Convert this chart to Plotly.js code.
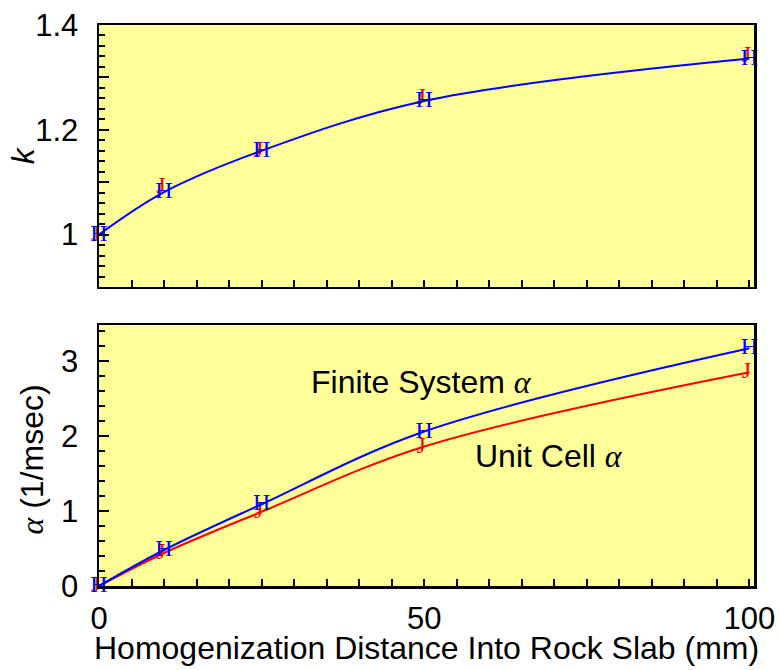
<!DOCTYPE html>
<html>
<head>
<meta charset="utf-8">
<script src="https://cdn.plot.ly/plotly-3.0.1.min.js"></script>
<style>html,body{margin:0;padding:0;background:#fff;}#chart{width:780px;height:670px;}</style>
</head>
<body>
<div id="chart"></div>
<script>
// Homogenization distance (mm)
const distance = [0, 10, 25, 50, 100];
// k (top panel)
const kFinite = [1.0, 1.081, 1.16, 1.255, 1.336];
const kUnit = [1.0, 1.09, 1.16, 1.26, 1.34];
// alpha (1/msec) (bottom panel)
const alphaFinite = [0, 0.48, 1.09, 2.06, 3.17];
const alphaUnit = [0, 0.44, 0.99, 1.86, 2.85];
// tick labels
const kTickVals = [0.9, 1.0, 1.1, 1.2, 1.3, 1.4];
const kTickText = ['', '1', '', '1.2', '', '1.4'];
const alphaTickVals = [0, 1, 2, 3];
const xTickVals = [0, 50, 100];

const BLUE = '#0000ff', RED = '#ff0000';
const FONT = 'Liberation Sans, Arial, sans-serif';
const SERIF = 'Liberation Serif, Times New Roman, serif';
const markFont = (c) => ({family: SERIF, size: 24, color: c});
const J = 'J\u00a0', H = 'H';

const traces = [
  {x: distance, y: kUnit, xaxis: 'x2', yaxis: 'y2', mode: 'text',
   text: distance.map(() => J), textposition: 'middle center', textfont: markFont(RED),
   cliponaxis: false, hoverinfo: 'skip'},
  {x: distance, y: kFinite, xaxis: 'x2', yaxis: 'y2', mode: 'lines+text',
   line: {color: BLUE, width: 2, shape: 'spline'},
   text: distance.map(() => H), textposition: 'middle center', textfont: markFont(BLUE),
   cliponaxis: false},
  {x: distance, y: alphaUnit, xaxis: 'x', yaxis: 'y', mode: 'lines+text',
   line: {color: RED, width: 2, shape: 'spline'},
   text: distance.map(() => J), textposition: 'middle center', textfont: markFont(RED),
   cliponaxis: false},
  {x: distance, y: alphaFinite, xaxis: 'x', yaxis: 'y', mode: 'lines+text',
   line: {color: BLUE, width: 2, shape: 'spline'},
   text: distance.map(() => H), textposition: 'middle center', textfont: markFont(BLUE),
   cliponaxis: false}
];

const TICKSIZE = 31, TITLESIZE = 32;
const axisCommon = {
  showline: true, linecolor: '#000', linewidth: 2.5, mirror: true,
  ticks: 'inside', tickcolor: '#000', tickwidth: 2,
  showgrid: false, zeroline: false,
  tickfont: {family: FONT, size: TICKSIZE, color: '#000'}
};

const layout = {
  width: 780, height: 670,
  margin: {l: 99, r: 26, t: 25, b: 84},
  paper_bgcolor: '#ffffff', plot_bgcolor: '#ffff99',
  showlegend: false,
  font: {family: FONT, color: '#000'},
  xaxis: Object.assign({}, axisCommon, {
    domain: [0, 1], anchor: 'y', range: [0, 100.7],
    tickmode: 'array', tickvals: xTickVals, ticklen: 7, ticklabelstandoff: 3,
    minor: {ticks: 'inside', tick0: 0, dtick: 5, ticklen: 7, tickwidth: 2, tickcolor: '#000'}
  }),
  xaxis2: Object.assign({}, axisCommon, {
    domain: [0, 1], anchor: 'y2', matches: 'x', range: [0, 100.7],
    tickmode: 'array', tickvals: xTickVals, ticklen: 7, showticklabels: false,
    minor: {ticks: 'inside', tick0: 0, dtick: 5, ticklen: 7, tickwidth: 2, tickcolor: '#000'}
  }),
  yaxis: Object.assign({}, axisCommon, {
    domain: [0, 0.4652], anchor: 'x', range: [0, 3.48],
    tickmode: 'array', tickvals: alphaTickVals, ticklen: 10, ticklabelstandoff: 12,
    minor: {ticks: 'inside', tick0: 0, dtick: 0.2, ticklen: 6, tickwidth: 2, tickcolor: '#000'}
  }),
  yaxis2: Object.assign({}, axisCommon, {
    domain: [0.533, 1], anchor: 'x2', range: [0.9, 1.4],
    tickmode: 'array', tickvals: kTickVals, ticktext: kTickText, ticklen: 10, ticklabelstandoff: 12,
    minor: {ticks: 'inside', tick0: 0.9, dtick: 0.02, ticklen: 6, tickwidth: 2, tickcolor: '#000'}
  }),
  annotations: [
    // x-axis title
    {xref: 'paper', yref: 'paper', x: 0.5, y: -0.1105, xanchor: 'center', yanchor: 'middle',
     showarrow: false, text: 'Homogenization Distance Into Rock Slab (mm)',
     font: {family: FONT, size: TITLESIZE, color: '#000'}},
    // y-axis titles
    {xref: 'paper', yref: 'paper', x: -0.116, y: 0.768, xanchor: 'center', yanchor: 'middle',
     textangle: -90, showarrow: false, text: '<i>k</i>',
     font: {family: FONT, size: TITLESIZE, color: '#000'}},
    {xref: 'paper', yref: 'paper', x: -0.103, y: 0.2246, xanchor: 'center', yanchor: 'middle',
     textangle: -90, showarrow: false,
     text: '<span style="font-family:Liberation Serif"><i>α</i></span> (1/msec)',
     font: {family: FONT, size: TITLESIZE, color: '#000'}},
    // series labels
    {xref: 'x', yref: 'y', x: 32.3, y: 2.72, xanchor: 'left', yanchor: 'middle', showarrow: false,
     text: 'Finite System <span style="font-family:Liberation Serif"><i>α</i></span>',
     font: {family: FONT, size: TITLESIZE, color: '#000'}},
    {xref: 'x', yref: 'y', x: 57.5, y: 1.73, xanchor: 'left', yanchor: 'middle', showarrow: false,
     text: 'Unit Cell <span style="font-family:Liberation Serif"><i>α</i></span>',
     font: {family: FONT, size: TITLESIZE, color: '#000'}}
  ]
};

Plotly.newPlot('chart', traces, layout, {displayModeBar: false, staticPlot: true});
</script>
</body>
</html>
